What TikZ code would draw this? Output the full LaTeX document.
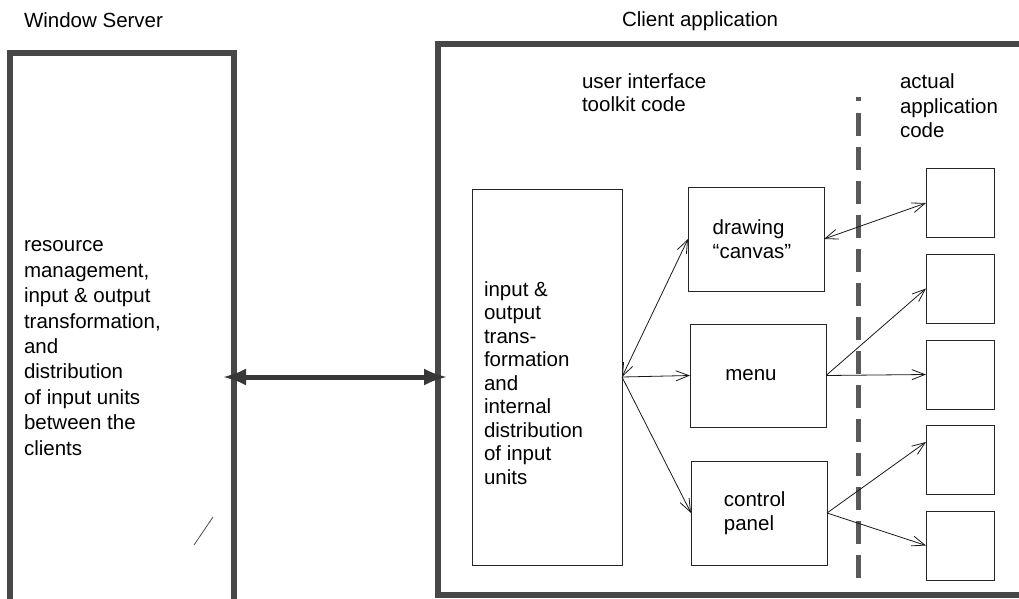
\documentclass[tikz,border=0pt]{standalone}
\usepackage{fontspec}
\setmainfont{Liberation Sans}
\usetikzlibrary{arrows.meta}
\begin{document}
\begin{tikzpicture}[x=1pt,y=-1pt,
  every node/.style={font=\fontsize{20.5}{24}\selectfont, inner sep=0pt, outer sep=0pt},
  frame/.style={draw=black!72, line width=6pt, rectangle},
  box/.style={draw=black!85, line width=0.9pt, rectangle, align=left},
  small/.style={draw=black!85, line width=0.9pt, rectangle, minimum width=68pt, minimum height=69pt},
  txt/.style={anchor=base west, align=left},
  arr/.style={draw=black!90, line width=0.8pt, -{Straight Barb[length=13pt,width=10pt]}},
  darr/.style={draw=black!90, line width=0.8pt, {Straight Barb[length=13pt,width=10pt]}-{Straight Barb[length=13pt,width=10pt]}},
  bigarr/.style={draw=black!78, line width=5pt, {Latex[length=24pt,width=17pt]}-{Latex[length=24pt,width=17pt]}},
  sep/.style={draw=black!65, line width=5pt}]
\useasboundingbox (0,0) rectangle (1019,599);
\begin{scope}
\clip (0,0) rectangle (1019,599);
% big frames
\node[frame, anchor=north west, minimum width=224pt, minimum height=549pt] (server) at (10,53) {};
\node[frame, anchor=north west, minimum width=600pt, minimum height=551pt] (client) at (438,44) {};
\end{scope}
% titles
\node[txt] (tserver) at (24,28) {Window Server};
\node[txt] (tclient) at (622,27) {Client application};
% server text (anchor = baseline of last line)
\node[txt, font=\fontsize{20.5}{25.4}\selectfont] (stext) at (24,455) {resource\\management,\\input \& output\\transformation,\\and\\distribution\\of input units\\between the\\clients};
% area labels
\node[txt] (tuit) at (582,112) {user interface\\toolkit code};
\node[txt] (tapp) at (900,137) {actual\\application\\code};
% separator
\coordinate (sepa) at (858,101);
\coordinate (sepb) at (858,113);
\coordinate (sepc) at (858,580);
\draw[sep] (sepa) -- ([yshift=4pt]sepa);
\draw[sep, dash pattern=on 23pt off 11pt] (sepb) -- (sepc);
% inner boxes
\node[box, minimum width=150pt, minimum height=376pt] (inbox) at (547,377) {};
\node[txt, font=\fontsize{20.5}{23.5}\selectfont] (intext) at (484,484) {input \&\\output\\trans-\\formation\\and\\internal\\distribution\\of input\\units};
\node[box, minimum width=136pt, minimum height=104pt] (canvas) at (756,239) {drawing\\“canvas”\hspace*{8pt}};
\node[box, minimum width=136pt, minimum height=103pt] (menu) at (758,375.5) {menu\hspace*{14pt}};
\node[box, minimum width=136pt, minimum height=104pt] (panel) at (759,513) {control\\panel\hspace*{20pt}};
% application boxes
\node[small] (a1) at (960,203) {};
\node[small] (a2) at (960,288.5) {};
\node[small] (a3) at (960,374.5) {};
\node[small] (a4) at (960,460) {};
\node[small] (a5) at (960,545.5) {};
% connectors
\draw[bigarr, shorten <=-12pt, shorten >=-10pt] (server.east |- inbox.east) -- (client.west |- inbox.east);
\draw[darr] (inbox.east) -- (canvas.west);
\draw[arr] (inbox.east) -- (menu.west);
\draw[arr] (inbox.east) -- (panel.west);
\draw[darr] (canvas.east) -- (a1.west);
\draw[arr] (menu.east) -- (a2.west);
\draw[arr] (menu.east) -- (a3.west);
\draw[arr] (panel.east) -- ([yshift=18pt]a4.west);
\draw[arr] (panel.east) -- (a5.west);
% stray mark
\coordinate (m1) at (194,545);
\coordinate (m2) at (213,517);
\draw[black!70, line width=0.8pt] (m1) -- (m2);
\end{tikzpicture}
\end{document}
